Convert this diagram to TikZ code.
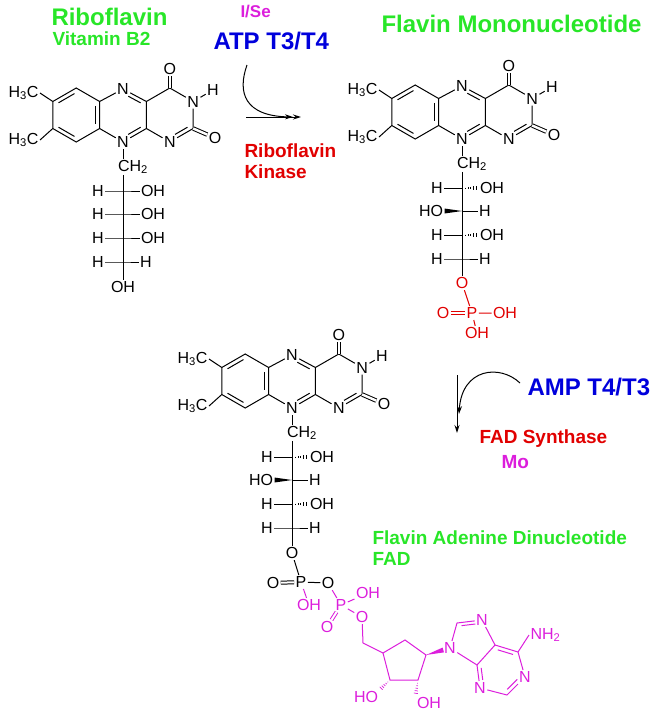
\documentclass[tikz,border=0pt]{standalone}
\usepackage{fontspec}
\setmainfont{Liberation Sans}
\usetikzlibrary{calc,arrows.meta}

\definecolor{ttlgreen}{RGB}{40,230,40}
\definecolor{fadmag}{RGB}{220,30,220}
\definecolor{atpblue}{RGB}{0,0,220}
\definecolor{fmnred}{RGB}{225,0,0}

\newcommand\chem{\fontsize{16}{17}\selectfont}
\newcommand\bigttl{\fontsize{24}{26}\selectfont\bfseries}
\newcommand\midttl{\fontsize{19}{21}\selectfont\bfseries}

% inner line of a ring double bond
\newcommand\ringdbl[5]{\draw[shorten <=#4,shorten >=#5] ($(#1)!.17!(#3)$) -- ($(#2)!.17!(#3)$);}
\newcommand\hashwedge[3][]{\foreach \t/\w in {.2/.4pt,.36/.8pt,.52/1.2pt,.68/1.6pt,.84/2pt,1/2.4pt}
  {\draw[line width=.7pt,#1] ($(#2)!\t!(#3)!\w!90:(#3)$) -- ($(#2)!\t!(#3)!\w!-90:(#3)$);}}
\newcommand\boldwedge[3][]{\fill[#1] (#2) -- ($(#3)!2.5pt!90:(#2)$) -- ($(#3)!2.5pt!-90:(#2)$) -- cycle;}

% isoalloxazine rings, origin at the centre of the middle ring
\newcommand\flavincore[1]{%
  \coordinate (#1bc) at (-46.8,0);
  \coordinate (#1mc) at (0,0);
  \coordinate (#1pc) at (46.8,0);
  \coordinate (#1a1) at (-70.2,-13.5);
  \coordinate (#1a2) at (-46.8,-27);
  \coordinate (#1a3) at (-23.4,-13.5);
  \coordinate (#1a4) at (-23.4,13.5);
  \coordinate (#1a5) at (-46.8,27);
  \coordinate (#1a6) at (-70.2,13.5);
  \coordinate (#1c4a) at (23.4,-13.5);
  \coordinate (#1c10a) at (23.4,13.5);
  \coordinate (#1c4) at (46.8,-27);
  \coordinate (#1c2) at (70.2,13.5);
  \node (#1N5) at (0,-26) {N};
  \node (#1N10) at (0,27) {N};
  \node (#1N3) at (70.2,-13.5) {N};
  \node (#1N1) at (46.8,27) {N};
  \node (#1O4) at (46.8,-46) {O};
  \node (#1H3) at (90,-25) {H};
  \node (#1O2) at (92,23) {O};
  \node[anchor=east] (#1Me1) at (-83,-22) {H\textsubscript{3}C};
  \node[anchor=east] (#1Me2) at (-83,25) {H\textsubscript{3}C};
  \draw (#1a1) -- (#1a2) -- (#1a3) -- (#1a4) -- (#1a5) -- (#1a6) -- cycle;
  \draw (#1a3) -- (#1N5) -- (#1c4a) -- (#1c10a) -- (#1N10) -- (#1a4);
  \draw (#1c4a) -- (#1c4) -- (#1N3) -- (#1c2) -- (#1N1) -- (#1c10a);
  \draw[double distance=2.4pt] (#1c4) -- (#1O4);
  \draw[double distance=2.4pt] (#1c2) -- (#1O2);
  \draw (#1N3) -- (#1H3);
  \draw (#1a1) -- (#1Me1.east);
  \draw (#1a6) -- (#1Me2.east);
  \ringdbl{#1a1}{#1a2}{#1bc}{2pt}{2pt}
  \ringdbl{#1a3}{#1a4}{#1bc}{2pt}{2pt}
  \ringdbl{#1a5}{#1a6}{#1bc}{2pt}{2pt}
  \ringdbl{#1N5}{#1c4a}{#1mc}{6pt}{2pt}
  \ringdbl{#1N10}{#1c10a}{#1mc}{6pt}{2pt}
  \ringdbl{#1N1}{#1c2}{#1pc}{6pt}{2pt}
}

\begin{document}
\begin{tikzpicture}[x=1pt,y=-1pt,line width=1pt,
    every node/.style={font=\chem,inner sep=1pt},
    ttl/.style={anchor=base west,inner sep=0pt}]
  \useasboundingbox (0,0) rectangle (651,721);

  % titles
  \node[ttl,font=\bigttl,ttlgreen] (tRibo) at (51,25) {Riboflavin};
  \node[ttl,font=\midttl,ttlgreen] (tVit) at (52,45) {Vitamin B2};
  \node[ttl,font=\fontsize{17}{19}\selectfont\bfseries,fadmag] (tIse) at (240,17) {I/Se};
  \node[ttl,font=\bigttl,atpblue] (tATP) at (213,49) {ATP T3/T4};
  \node[ttl,font=\midttl,fmnred] (tKin1) at (244,157) {Riboflavin};
  \node[ttl,font=\midttl,fmnred] (tKin2) at (244,178) {Kinase};
  \node[ttl,font=\bigttl,ttlgreen] (tFMN) at (381,32) {Flavin Mononucleotide};
  \node[ttl,font=\bigttl,atpblue] (tAMP) at (527,395) {AMP T4/T3};
  \node[ttl,font=\midttl,fmnred] (tSyn) at (479,443) {FAD Synthase};
  \node[ttl,font=\midttl,fadmag] (tMo) at (501,468) {Mo};
  \node[ttl,font=\midttl,ttlgreen] (tFAD1) at (372,544) {Flavin Adenine Dinucleotide};
  \node[ttl,font=\midttl,ttlgreen] (tFAD2) at (372,565) {FAD};

  % riboflavin
  \begin{scope}[shift={(123,115)}]
    \flavincore{r}
    \node[anchor=west,inner sep=.5pt] (rCH) at (-6,52) {CH\textsubscript{2}};
    \node (rOH) at (0,172) {OH};
    \foreach \y [count=\i] in {76,99,123,147} {
      \coordinate (rK\i) at (0,\y);
      \node (rL\i) at (-25,\y) {H};
    }
    \node (rR1) at (30,76) {OH};
    \node (rR2) at (30,99) {OH};
    \node (rR3) at (30,123) {OH};
    \node (rR4) at (23,147) {H};
    \draw (rN10) -- (rCH.north -| rK1);
    \draw (rCH.south -| rK1) -- (rOH);
    \foreach \i in {1,...,4} \draw (rL\i) -- (rK\i) -- (rR\i);
  \end{scope}

  % flavin mononucleotide
  \begin{scope}[shift={(462,112)}]
    \flavincore{m}
    \node[anchor=west,inner sep=.5pt] (mCH) at (-6,52) {CH\textsubscript{2}};
    \foreach \y [count=\i] in {76,99,123,147} \coordinate (mK\i) at (0,\y);
    \node (mL1) at (-25,76) {H};  \node (mR1) at (30,76) {OH};
    \node (mL2) at (-31,99) {HO}; \node (mR2) at (23,99) {H};
    \node (mL3) at (-25,123) {H}; \node (mR3) at (30,123) {OH};
    \node (mL4) at (-25,147) {H}; \node (mR4) at (23,147) {H};
    \node[fmnred] (mO) at (0,171) {O};
    \node[fmnred] (mP) at (10,201) {P};
    \node[fmnred] (mPO) at (-19,201) {O};
    \node[fmnred] (mPR) at (43,201) {OH};
    \node[fmnred] (mPB) at (15,221) {OH};
    \draw (mN10) -- (mCH.north -| mK1);
    \draw (mCH.south -| mK1) -- (mO);
    \draw (mL1) -- (mK1); \hashwedge{mK1}{mR1.west}
    \boldwedge{mK2}{mL2.east} \draw (mK2) -- (mR2);
    \draw (mL3) -- (mK3); \hashwedge{mK3}{mR3.west}
    \draw (mL4) -- (mK4) -- (mR4);
    \draw[fmnred] (mO) -- (mP) -- (mPR);
    \draw[fmnred] (mP) -- (mPB);
    \draw[fmnred,double distance=2pt] (mPO) -- (mP);
  \end{scope}

  % flavin adenine dinucleotide
  \begin{scope}[shift={(292,381)}]
    \flavincore{d}
    \node[anchor=west,inner sep=.5pt] (dCH) at (-6,52) {CH\textsubscript{2}};
    \foreach \y [count=\i] in {76,99,123,147} \coordinate (dK\i) at (0,\y);
    \node (dL1) at (-25,76) {H};  \node (dR1) at (30,76) {OH};
    \node (dL2) at (-31,99) {HO}; \node (dR2) at (23,99) {H};
    \node (dL3) at (-25,123) {H}; \node (dR3) at (30,123) {OH};
    \node (dL4) at (-25,147) {H}; \node (dR4) at (23,147) {H};
    \node (dO) at (0,172) {O};
    \draw (dN10) -- (dCH.north -| dK1);
    \draw (dCH.south -| dK1) -- (dO);
    \draw (dL1) -- (dK1); \hashwedge{dK1}{dR1.west}
    \boldwedge{dK2}{dL2.east} \draw (dK2) -- (dR2);
    \draw (dL3) -- (dK3); \hashwedge{dK3}{dR3.west}
    \draw (dL4) -- (dK4) -- (dR4);
  \end{scope}
  % phosphates
  \node (dP1) at (301,582) {P};
  \node (dP1O) at (273,583) {O};
  \node[fadmag] (dP1H) at (309,605) {OH};
  \node (dOb) at (328,583) {O};
  \node[fadmag] (dP2) at (341,605) {P};
  \node[fadmag] (dP2H) at (368,593) {OH};
  \node[fadmag] (dO5) at (362,617) {O};
  \node[fadmag] (dP2O) at (327,627) {O};
  \draw (dO) -- (dP1) -- (dOb);
  \draw[double distance=2pt] (dP1O) -- (dP1);
  \draw[fadmag] (dP1) -- (dP1H);
  \draw[fadmag] (dOb) -- (dP2) -- (dP2H);
  \draw[fadmag,double distance=2pt] (dP2) -- (dP2O);
  % sugar ring
  \coordinate (dC5) at (363,643);
  \coordinate (dC4) at (383,653);
  \coordinate (dCt) at (405,640);
  \coordinate (dC1) at (426,655);
  \coordinate (dC2) at (418,680);
  \coordinate (dC3) at (390,680);
  \node[fadmag] (dHO3) at (366,697) {HO};
  \node[fadmag] (dHO2) at (429,703) {OH};
  \draw[fadmag] (dP2) -- (dO5) -- (dC5) -- (dC4);
  \draw[fadmag] (dC4) -- (dCt) -- (dC1) -- (dC2) -- (dC3) -- cycle;
  \hashwedge[fadmag]{dC3}{dHO3.north east}
  \hashwedge[fadmag]{dC2}{dHO2.north west}
  % adenine
  \node[fadmag] (dN9) at (450,648) {N};
  \coordinate (dC8) at (457,623);
  \node[fadmag] (dN7) at (482,620) {N};
  \coordinate (dA5) at (495,645);
  \coordinate (dA4) at (477,665);
  \coordinate (dA6) at (518,652);
  \node[fadmag] (dN1) at (525,677) {N};
  \coordinate (dA2) at (507,695);
  \node[fadmag] (dN3) at (480,688) {N};
  \node[fadmag,anchor=west] (dNH) at (529,635) {NH\textsubscript{2}};
  \coordinate (dIc) at (472,640);
  \coordinate (dPc) at (500,670);
  \coordinate (dW) at ($(dC1)!.72!(dN9)$);
  \boldwedge[fadmag]{dC1}{dW}
  \begin{scope}[fadmag]
    \draw (dN9) -- (dC8) -- (dN7) -- (dA5) -- (dA4) -- (dN9);
    \draw (dA5) -- (dA6) -- (dN1) -- (dA2) -- (dN3) -- (dA4);
    \draw (dA6) -- (dNH.west);
    \ringdbl{dC8}{dN7}{dIc}{2pt}{5pt}
    \ringdbl{dN3}{dA4}{dPc}{5pt}{2pt}
    \ringdbl{dA5}{dA6}{dPc}{2pt}{2pt}
    \ringdbl{dN1}{dA2}{dPc}{5pt}{2pt}
  \end{scope}

  % reaction arrows
  \coordinate (k1a) at (246,117);
  \coordinate (k1b) at (301,117);
  \coordinate (k1c) at (247,65);
  \coordinate (k1d) at (293,117);
  \draw[-{Stealth[length=8pt,width=5pt]}] (k1a) -- (k1b);
  \draw[-{Stealth[length=8pt,width=5pt]}] (k1c) .. controls (237,93) and (245,116) .. (k1d);
  \coordinate (k2a) at (457,375);
  \coordinate (k2b) at (457,433);
  \coordinate (k2c) at (520,383);
  \coordinate (k2d) at (459,414);
  \draw[-{Stealth[length=8pt,width=5pt]}] (k2a) -- (k2b);
  \draw[-{Stealth[length=8pt,width=5pt]}] (k2c) .. controls (500,364) and (462,368) .. (k2d);
\end{tikzpicture}
\end{document}
